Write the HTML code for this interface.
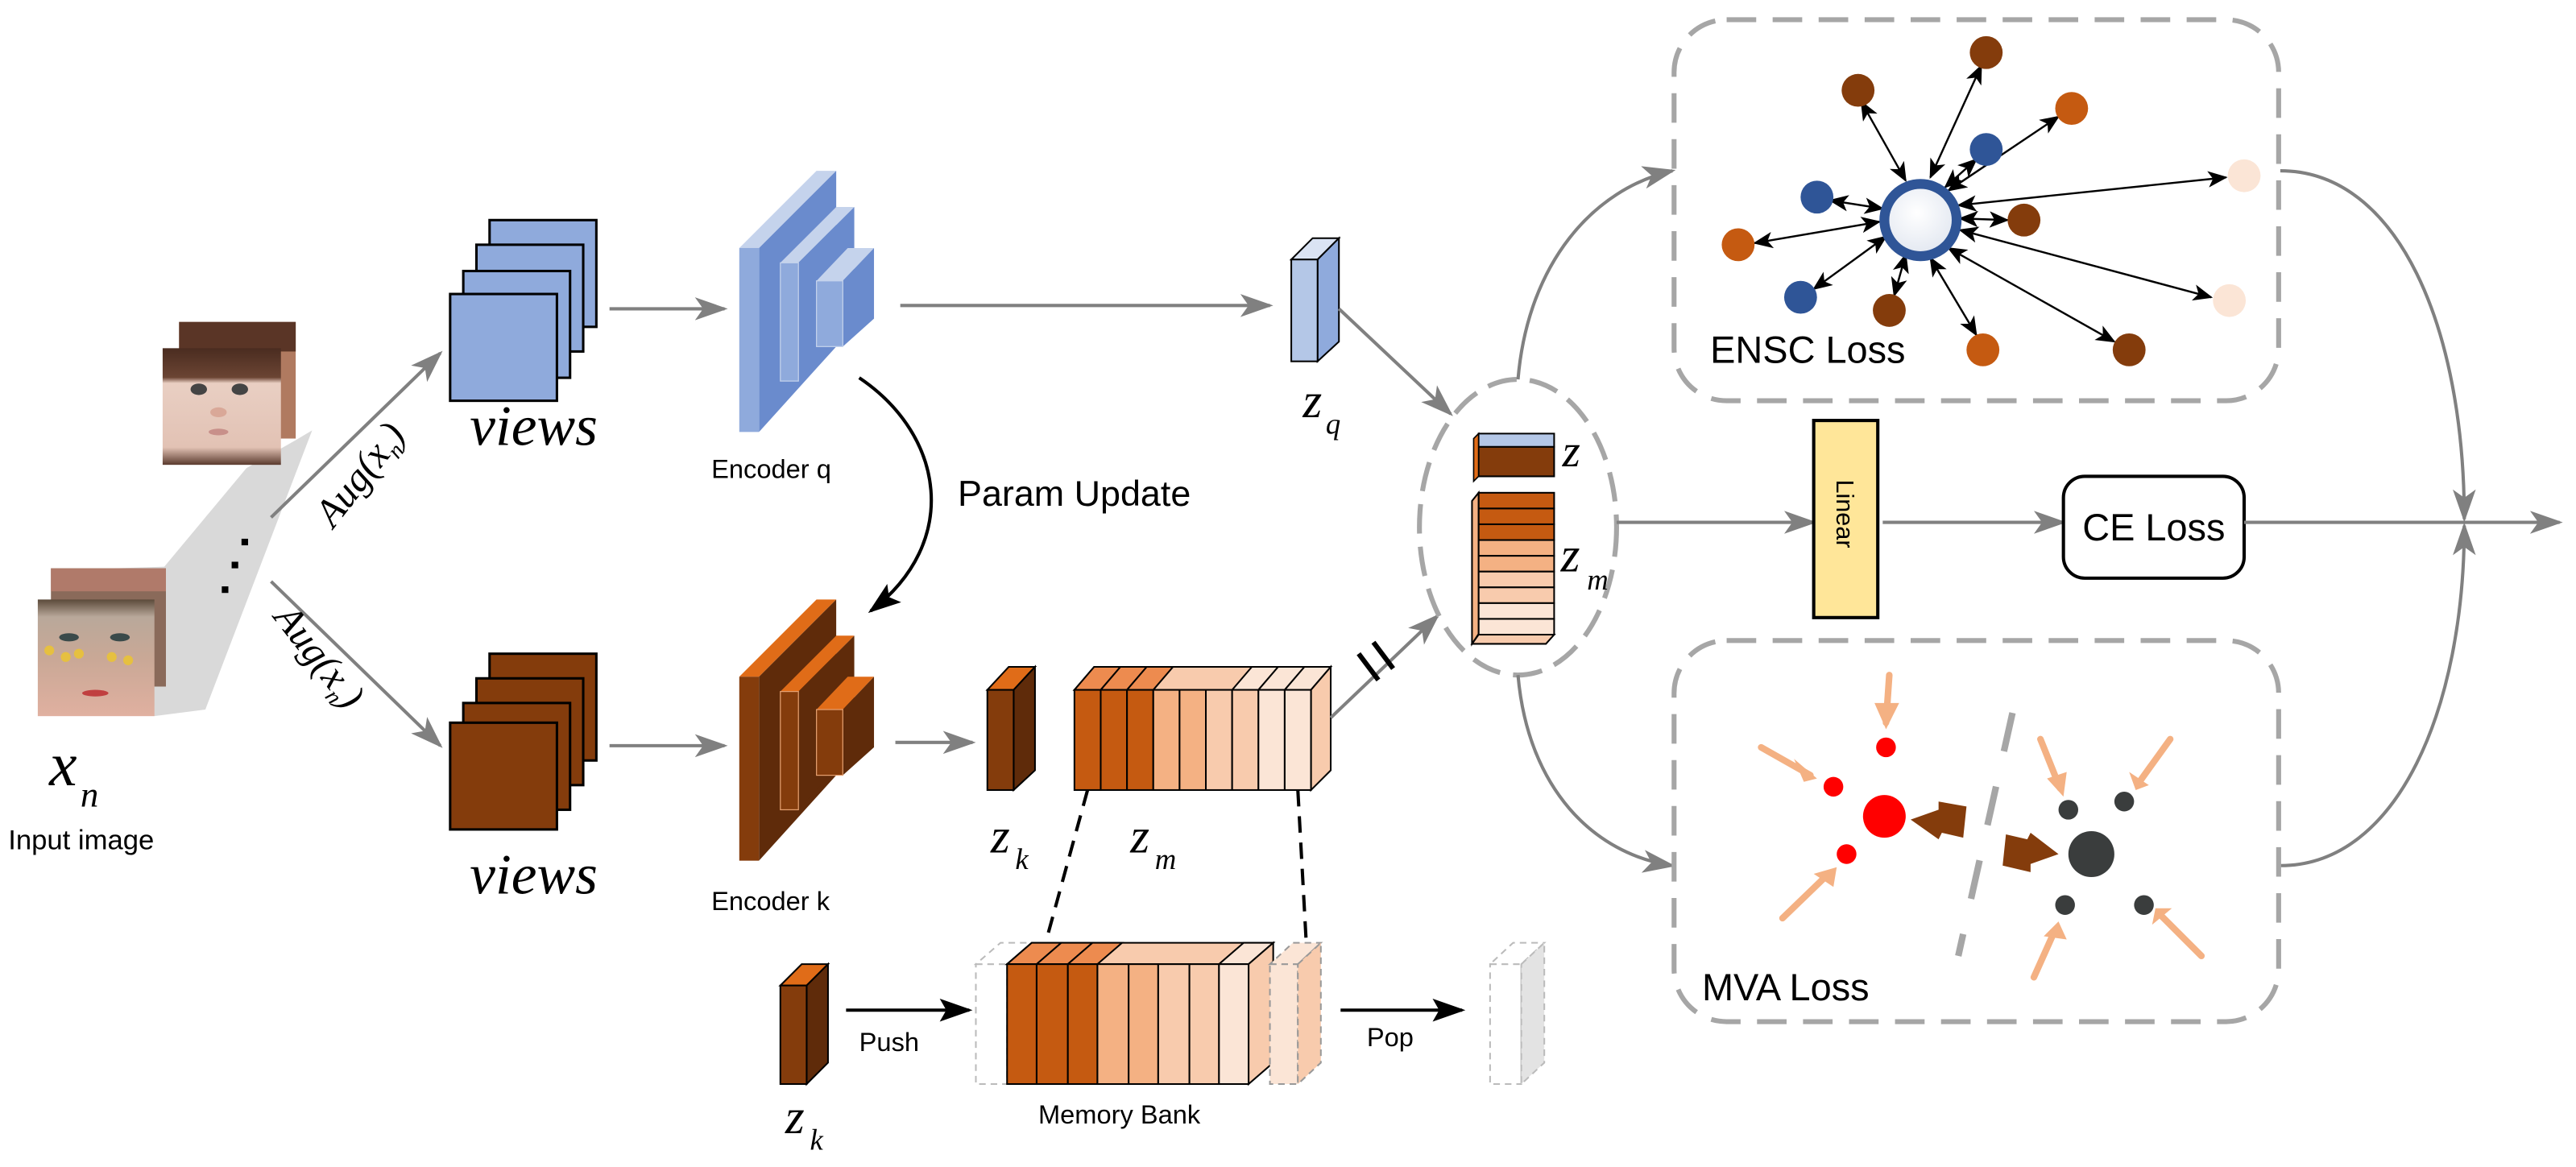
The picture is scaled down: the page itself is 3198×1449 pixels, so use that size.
<!DOCTYPE html>
<html><head><meta charset="utf-8"><style>
html,body{margin:0;padding:0;background:#fff;}
svg{display:block;}
text{font-family:"Liberation Sans",sans-serif;}
.s{font-family:"Liberation Serif",serif;font-style:italic;}
</style></head><body>
<svg width="3198" height="1449" viewBox="0 0 1568 710.5" preserveAspectRatio="none" xmlns="http://www.w3.org/2000/svg">
<defs>
<marker id="ga" markerUnits="userSpaceOnUse" markerWidth="20" markerHeight="14" refX="18" refY="7" orient="auto"><path d="M0,0 L20,7 L0,14 L5,7 z" fill="#808080"/></marker>
<marker id="ba" markerUnits="userSpaceOnUse" markerWidth="20" markerHeight="14" refX="18" refY="7" orient="auto"><path d="M0,0 L20,7 L0,14 L4,7 z" fill="#000"/></marker>
<marker id="sa" markerUnits="userSpaceOnUse" markerWidth="12" markerHeight="10" refX="11" refY="5" orient="auto"><path d="M0,0 L12,5 L0,10 L3,5 z" fill="#000"/></marker>
<marker id="sb" markerUnits="userSpaceOnUse" markerWidth="12" markerHeight="10" refX="1" refY="5" orient="auto"><path d="M12,0 L0,5 L12,10 L9,5 z" fill="#000"/></marker>
<radialGradient id="rg" cx="0.45" cy="0.4" r="0.7"><stop offset="0" stop-color="#fff"/><stop offset="1" stop-color="#dde3ee"/></radialGradient>
<linearGradient id="child" x1="0" y1="0" x2="0" y2="1"><stop offset="0" stop-color="#4a2c20"/><stop offset="0.25" stop-color="#6b4433"/><stop offset="0.3" stop-color="#e9cfc3"/><stop offset="0.85" stop-color="#e2c2b4"/><stop offset="1" stop-color="#5a3a2e"/></linearGradient>
<linearGradient id="woman" x1="0" y1="0" x2="0" y2="1"><stop offset="0" stop-color="#5b4a3a"/><stop offset="0.15" stop-color="#b9a89a"/><stop offset="0.5" stop-color="#c9a896"/><stop offset="1" stop-color="#e0b0a0"/></linearGradient>
</defs>

<polygon points="150,285 180,268 190,262 125,432 94,436 92,432 70,346 100,345" fill="#d9d9d9"/>
<rect x="109" y="196" width="71" height="71" fill="#b07a60"/>
<rect x="109" y="196" width="71" height="18" fill="#5a3526"/>
<rect x="99" y="212" width="72" height="71" fill="url(#child)"/>
<ellipse cx="121" cy="237" rx="5" ry="3.5" fill="#444"/><ellipse cx="146" cy="237" rx="5" ry="3.5" fill="#444"/>
<ellipse cx="133" cy="251" rx="5" ry="3" fill="#d9a898"/><ellipse cx="133" cy="263" rx="6" ry="2" fill="#c8908a"/>
<rect x="147" y="328" width="4" height="4" fill="#000"/><rect x="141" y="342" width="4" height="4" fill="#000"/><rect x="135" y="357" width="4" height="4" fill="#000"/>
<rect x="31" y="346" width="70" height="72" fill="#8a6a5a"/>
<rect x="31" y="346" width="70" height="14" fill="#b07a6a"/>
<rect x="23" y="365" width="71" height="71" fill="url(#woman)"/>
<ellipse cx="42" cy="388" rx="6" ry="2.5" fill="#3a4a4a"/><ellipse cx="73" cy="388" rx="6" ry="2.5" fill="#3a4a4a"/>
<circle cx="30" cy="396" r="3" fill="#e6c040"/><circle cx="40" cy="400" r="3" fill="#e6c040"/><circle cx="48" cy="398" r="3" fill="#e6c040"/><circle cx="68" cy="400" r="3" fill="#e6c040"/><circle cx="78" cy="402" r="3" fill="#e6c040"/>
<ellipse cx="58" cy="422" rx="8" ry="2" fill="#c04040"/>
<text x="30" y="478" class="s" font-size="38">x</text><text x="49" y="491" class="s" font-size="22">n</text>
<text x="5" y="517" font-size="17">Input image</text>

<line x1="165" y1="315" x2="268" y2="215" stroke="#808080" stroke-width="2" marker-end="url(#ga)"/>
<line x1="165" y1="354" x2="268" y2="454" stroke="#808080" stroke-width="2" marker-end="url(#ga)"/>
<text transform="translate(203,322) rotate(-52)" class="s" font-size="24">Aug(x<tspan font-size="14" dy="5">n</tspan><tspan dy="-5">)</tspan></text>
<text transform="translate(166,376) rotate(52)" class="s" font-size="24">Aug(x<tspan font-size="14" dy="5">n</tspan><tspan dy="-5">)</tspan></text>

<g stroke="#000" stroke-width="1.5" fill="#8faadc">
<rect x="298" y="134" width="65" height="65"/><rect x="290" y="149" width="65" height="65"/><rect x="282" y="165" width="65" height="65"/><rect x="274" y="179" width="65" height="65"/>
</g>
<text x="286" y="271" class="s" font-size="35">views</text>
<g stroke="#000" stroke-width="1.5" fill="#843c0c">
<rect x="298" y="398" width="65" height="65"/><rect x="290" y="413" width="65" height="65"/><rect x="282" y="428" width="65" height="65"/><rect x="274" y="440" width="65" height="65"/>
</g>
<text x="286" y="544" class="s" font-size="35">views</text>

<line x1="371" y1="188" x2="441" y2="188" stroke="#808080" stroke-width="2" marker-end="url(#ga)"/>
<line x1="371" y1="454" x2="441" y2="454" stroke="#808080" stroke-width="2" marker-end="url(#ga)"/>

<g>
<polygon points="450,151 462,151 509,104 497,104" fill="#c5d3ec"/>
<polygon points="462,151 509,104 509,211 462,263" fill="#6a8bcd"/>
<rect x="450" y="151" width="12" height="112" fill="#8faadc"/>
<polygon points="475,160 486,160 520,126 509,126" fill="#c5d3ec"/>
<polygon points="486,160 520,126 520,194 486,232" fill="#6a8bcd"/>
<rect x="475" y="160" width="11" height="72" fill="#8faadc" stroke="#c5d3ec" stroke-width="0.6"/>
<polygon points="497,171 513,171 532,151 516,151" fill="#c5d3ec"/>
<polygon points="513,171 532,151 532,194 513,211" fill="#6a8bcd"/>
<rect x="497" y="171" width="16" height="40" fill="#8faadc" stroke="#c5d3ec" stroke-width="0.6"/>
</g>
<text x="433" y="291" font-size="16">Encoder q</text>
<g>
<polygon points="450,412 462,412 509,365 497,365" fill="#e06c18"/>
<polygon points="462,412 509,365 509,472 462,524" fill="#5f2b0a"/>
<rect x="450" y="412" width="12" height="112" fill="#843c0c"/>
<polygon points="475,421 486,421 520,387 509,387" fill="#e06c18"/>
<polygon points="486,421 520,387 520,455 486,493" fill="#5f2b0a"/>
<rect x="475" y="421" width="11" height="72" fill="#843c0c" stroke="#e6a070" stroke-width="0.6"/>
<polygon points="497,432 513,432 532,412 516,412" fill="#e06c18"/>
<polygon points="513,432 532,412 532,455 513,472" fill="#5f2b0a"/>
<rect x="497" y="432" width="16" height="40" fill="#843c0c" stroke="#e6a070" stroke-width="0.6"/>
</g>
<text x="433" y="554" font-size="16">Encoder k</text>

<path d="M523,230 C575,265 585,330 530,372" fill="none" stroke="#000" stroke-width="2" marker-end="url(#ba)"/>
<text x="583" y="308" font-size="22">Param Update</text>

<line x1="548" y1="186" x2="773" y2="186" stroke="#808080" stroke-width="2" marker-end="url(#ga)"/>
<polygon points="786,158 802,158 815,145 799,145" fill="#dae3f3" stroke="#000" stroke-width="1"/>
<polygon points="802,158 815,145 815,208 802,220" fill="#8faadc" stroke="#000" stroke-width="1"/>
<rect x="786" y="158" width="16" height="62" fill="#b4c7e7" stroke="#000" stroke-width="1"/>
<text x="793" y="254" class="s" font-size="30">z</text><text x="807" y="264" class="s" font-size="18">q</text>
<line x1="815" y1="188" x2="883" y2="252" stroke="#808080" stroke-width="2" marker-end="url(#ga)"/>

<line x1="545" y1="452" x2="592" y2="452" stroke="#808080" stroke-width="2" marker-end="url(#ga)"/>
<polygon points="601,420 617,420 630,406 614,406" fill="#e06c18" stroke="#000" stroke-width="1"/>
<polygon points="617,420 630,406 630,469 617,481" fill="#5f2b0a" stroke="#000" stroke-width="1"/>
<rect x="601" y="420" width="16" height="61" fill="#843c0c" stroke="#000" stroke-width="1"/>
<text x="603" y="519" class="s" font-size="30">z</text><text x="618" y="529" class="s" font-size="18">k</text>

<g stroke="#000" stroke-width="1">
<polygon points="654,420 798,420 810,406 666,406" fill="#f8cbad"/>
<polygon points="654,420 670,420 682,406 666,406" fill="#ed8b4f"/>
<polygon points="670,420 686,420 698,406 682,406" fill="#ed8b4f"/>
<polygon points="686,420 702,420 714,406 698,406" fill="#ed8b4f"/>
<polygon points="750,420 766,420 778,406 762,406" fill="#fbe5d6"/>
<polygon points="766,420 782,420 794,406 778,406" fill="#fbe5d6"/>
<polygon points="782,420 798,420 810,406 794,406" fill="#fbe5d6"/>
<polygon points="798,420 810,406 810,469 798,481" fill="#f8cbad"/>
<rect x="654" y="420" width="16" height="61" fill="#c55a11"/>
<rect x="670" y="420" width="16" height="61" fill="#c55a11"/>
<rect x="686" y="420" width="16" height="61" fill="#c55a11"/>
<rect x="702" y="420" width="16" height="61" fill="#f4b183"/>
<rect x="718" y="420" width="16" height="61" fill="#f4b183"/>
<rect x="734" y="420" width="16" height="61" fill="#f8cbad"/>
<rect x="750" y="420" width="16" height="61" fill="#f8cbad"/>
<rect x="766" y="420" width="16" height="61" fill="#fbe5d6"/>
<rect x="782" y="420" width="16" height="61" fill="#fbe5d6"/>
</g>
<text x="688" y="519" class="s" font-size="30">z</text><text x="703" y="529" class="s" font-size="18">m</text>
<line x1="662" y1="481" x2="637" y2="572" stroke="#000" stroke-width="2" stroke-dasharray="10,6"/>
<line x1="790" y1="481" x2="795" y2="572" stroke="#000" stroke-width="2" stroke-dasharray="10,6"/>

<line x1="810" y1="437" x2="875" y2="375" stroke="#808080" stroke-width="2" marker-end="url(#ga)"/>
<line x1="827" y1="398" x2="839" y2="414" stroke="#000" stroke-width="3"/>
<line x1="836" y1="391" x2="848" y2="407" stroke="#000" stroke-width="3"/>

<rect x="594" y="587" width="19" height="73" fill="#fff" stroke="#bbb" stroke-width="1" stroke-dasharray="4,3"/>
<polygon points="594,587 613,587 628,574 609,574" fill="#fff" stroke="#bbb" stroke-width="1" stroke-dasharray="4,3"/>
<g stroke="#000" stroke-width="1">
<polygon points="613,587 760,587 775,574 628,574" fill="#f8cbad"/>
<polygon points="613,587 631,587 646,574 628,574" fill="#ed8b4f"/>
<polygon points="631,587 650,587 665,574 646,574" fill="#ed8b4f"/>
<polygon points="650,587 668,587 683,574 665,574" fill="#ed8b4f"/>
<polygon points="742,587 760,587 775,574 757,574" fill="#fbe5d6"/>
<polygon points="760,587 775,574 775,647 760,660" fill="#f8cbad"/>
<rect x="613" y="587" width="18" height="73" fill="#c55a11"/>
<rect x="631" y="587" width="19" height="73" fill="#c55a11"/>
<rect x="650" y="587" width="18" height="73" fill="#c55a11"/>
<rect x="668" y="587" width="19" height="73" fill="#f4b183"/>
<rect x="687" y="587" width="18" height="73" fill="#f4b183"/>
<rect x="705" y="587" width="19" height="73" fill="#f8cbad"/>
<rect x="724" y="587" width="18" height="73" fill="#f8cbad"/>
<rect x="742" y="587" width="18" height="73" fill="#fbe5d6"/>
</g>
<g stroke="#999" stroke-width="1" stroke-dasharray="4,3">
<rect x="773" y="587" width="17" height="73" fill="#fbe5d6"/>
<polygon points="773,587 790,587 804,574 787,574" fill="#fbe5d6"/>
<polygon points="790,587 804,574 804,647 790,660" fill="#f8cbad"/>
</g>
<g stroke="#bbb" stroke-width="1" stroke-dasharray="4,3">
<rect x="907" y="587" width="19" height="73" fill="#fff"/>
<polygon points="907,587 926,587 940,574 921,574" fill="#fff"/>
<polygon points="926,587 940,574 940,647 926,660" fill="#e3e3e3"/>
</g>
<text x="632" y="684" font-size="16">Memory Bank</text>
<line x1="515" y1="615" x2="590" y2="615" stroke="#000" stroke-width="2" marker-end="url(#ba)"/>
<text x="523" y="640" font-size="16">Push</text>
<line x1="816" y1="615" x2="890" y2="615" stroke="#000" stroke-width="2" marker-end="url(#ba)"/>
<text x="832" y="637" font-size="16">Pop</text>
<polygon points="475,600 491,600 504,587 488,587" fill="#e06c18" stroke="#000" stroke-width="1"/>
<polygon points="491,600 504,587 504,647 491,660" fill="#5f2b0a" stroke="#000" stroke-width="1"/>
<rect x="475" y="600" width="16" height="60" fill="#843c0c" stroke="#000" stroke-width="1"/>
<text x="478" y="690" class="s" font-size="30">z</text><text x="493" y="700" class="s" font-size="18">k</text>

<ellipse cx="924" cy="321" rx="60" ry="90" fill="none" stroke="#a6a6a6" stroke-width="3" stroke-dasharray="18,8"/>
<polygon points="900,272 946,272 946,290 900,290" fill="#843c0c" stroke="#000" stroke-width="1"/>
<polygon points="900,264 946,264 946,272 900,272" fill="#b4c7e7" stroke="#000" stroke-width="1"/>
<polygon points="897,267 900,264 900,290 897,293" fill="#e06c18" stroke="#000" stroke-width="0.8"/>
<text x="951" y="284" class="s" font-size="28">z</text>
<g stroke="#000" stroke-width="1">
<rect x="900" y="300" width="46" height="9.6" fill="#c55a11"/>
<rect x="900" y="309.6" width="46" height="9.6" fill="#c55a11"/>
<rect x="900" y="319.2" width="46" height="9.6" fill="#c55a11"/>
<rect x="900" y="328.8" width="46" height="9.6" fill="#f4b183"/>
<rect x="900" y="338.4" width="46" height="9.6" fill="#f4b183"/>
<rect x="900" y="348" width="46" height="9.6" fill="#f8cbad"/>
<rect x="900" y="357.6" width="46" height="9.6" fill="#f8cbad"/>
<rect x="900" y="367.2" width="46" height="9.6" fill="#fbe5d6"/>
<rect x="900" y="376.8" width="46" height="9.6" fill="#fbe5d6"/>
<polygon points="900,386.4 946,386.4 941,392 896,392" fill="#f8cbad"/>
<polygon points="896,305 900,300 900,386 896,392" fill="#f4b183"/>
</g>
<text x="950" y="348" class="s" font-size="30">z</text><text x="966" y="359" class="s" font-size="18">m</text>

<path d="M924,231 C930,160 970,115 1018,104" fill="none" stroke="#808080" stroke-width="2" marker-end="url(#ga)"/>
<path d="M924,411 C930,480 970,520 1018,527" fill="none" stroke="#808080" stroke-width="2" marker-end="url(#ga)"/>
<line x1="984" y1="318" x2="1104" y2="318" stroke="#808080" stroke-width="2" marker-end="url(#ga)"/>
<rect x="1104" y="256" width="39" height="120" fill="#ffe699" stroke="#000" stroke-width="2"/>
<text transform="translate(1118,292) rotate(90)" font-size="15">Linear</text>
<line x1="1146" y1="318" x2="1256" y2="318" stroke="#808080" stroke-width="2" marker-end="url(#ga)"/>
<rect x="1256" y="290" width="110" height="62" rx="13" fill="#fff" stroke="#000" stroke-width="2"/>
<text x="1311" y="329" font-size="23" text-anchor="middle">CE Loss</text>
<line x1="1366" y1="318" x2="1558" y2="318" stroke="#808080" stroke-width="2" marker-end="url(#ga)"/>
<path d="M1388,104 C1460,104 1500,200 1500,316" fill="none" stroke="#808080" stroke-width="2" marker-end="url(#ga)"/>
<path d="M1388,527 C1460,527 1500,430 1500,320" fill="none" stroke="#808080" stroke-width="2" marker-end="url(#ga)"/>

<rect x="1019" y="12" width="368" height="232" rx="32" fill="none" stroke="#a6a6a6" stroke-width="3" stroke-dasharray="18,10"/>
<g stroke="#000" stroke-width="1.2" marker-start="url(#sb)" marker-end="url(#sa)">
<line x1="1160" y1="110" x2="1133" y2="62"/>
<line x1="1175" y1="108" x2="1206" y2="40"/>
<line x1="1186" y1="116" x2="1253" y2="71"/>
<line x1="1184" y1="114" x2="1203" y2="97"/>
<line x1="1146" y1="127" x2="1114" y2="122"/>
<line x1="1144" y1="135" x2="1068" y2="148"/>
<line x1="1148" y1="144" x2="1104" y2="176"/>
<line x1="1160" y1="155" x2="1153" y2="180"/>
<line x1="1175" y1="157" x2="1203" y2="204"/>
<line x1="1186" y1="151" x2="1287" y2="208"/>
<line x1="1192" y1="125" x2="1355" y2="108"/>
<line x1="1193" y1="140" x2="1346" y2="181"/>
<line x1="1193" y1="133" x2="1222" y2="134"/>
</g>
<circle cx="1169" cy="134" r="22" fill="url(#rg)" stroke="#2f5597" stroke-width="6"/>
<g>
<circle cx="1131" cy="55" r="10" fill="#843c0c"/>
<circle cx="1209" cy="32" r="10" fill="#843c0c"/>
<circle cx="1261" cy="66" r="10" fill="#c55a11"/>
<circle cx="1209" cy="91" r="10" fill="#2f5597"/>
<circle cx="1106" cy="120" r="10" fill="#2f5597"/>
<circle cx="1058" cy="149" r="10" fill="#c55a11"/>
<circle cx="1096" cy="181" r="10" fill="#2f5597"/>
<circle cx="1150" cy="189" r="10" fill="#843c0c"/>
<circle cx="1207" cy="213" r="10" fill="#c55a11"/>
<circle cx="1296" cy="213" r="10" fill="#843c0c"/>
<circle cx="1366" cy="107" r="10" fill="#fbe5d6"/>
<circle cx="1357" cy="183" r="10" fill="#fbe5d6"/>
<circle cx="1232" cy="134" r="10" fill="#843c0c"/>
</g>
<text x="1041" y="221" font-size="23">ENSC Loss</text>

<rect x="1019" y="390" width="368" height="232" rx="32" fill="none" stroke="#a6a6a6" stroke-width="3" stroke-dasharray="18,10"/>
<g fill="#f4b183" stroke="#f4b183" stroke-width="4" stroke-linecap="round">
<line x1="1150" y1="411" x2="1148" y2="440"/><polygon points="1141,428 1156,428 1148,444" stroke="none"/>
<line x1="1072" y1="455" x2="1102" y2="472"/><polygon points="1092,462 1098,476 1106,474" stroke="none"/>
<line x1="1085" y1="559" x2="1113" y2="532"/><polygon points="1104,532 1116,540 1118,528" stroke="none"/>
<line x1="1242" y1="450" x2="1254" y2="480"/><polygon points="1246,474 1258,470 1256,485" stroke="none"/>
<line x1="1321" y1="450" x2="1303" y2="475"/><polygon points="1296,470 1308,478 1300,481" stroke="none"/>
<line x1="1340" y1="582" x2="1316" y2="558"/><polygon points="1310,563 1322,553 1312,553" stroke="none"/>
<line x1="1238" y1="595" x2="1251" y2="566"/><polygon points="1244,570 1258,572 1253,561" stroke="none"/>
</g>
<g fill="#843c0c">
<polygon points="1163,499 1180,493 1180,488 1197,491 1195,510 1182,507 1180,511"/>
<polygon points="1253,520 1236,526 1236,531 1219,527 1221,508 1234,511 1236,507"/>
</g>
<line x1="1225" y1="434" x2="1192" y2="582" stroke="#a6a6a6" stroke-width="4" stroke-dasharray="24,22"/>
<circle cx="1147" cy="497" r="13" fill="#ff0000"/>
<circle cx="1148" cy="455" r="6" fill="#ff0000"/>
<circle cx="1116" cy="479" r="6" fill="#ff0000"/>
<circle cx="1124" cy="520" r="6" fill="#ff0000"/>
<circle cx="1273" cy="520" r="14" fill="#3a3d3d"/>
<circle cx="1259" cy="493" r="6" fill="#3a3d3d"/>
<circle cx="1293" cy="488" r="6" fill="#3a3d3d"/>
<circle cx="1257" cy="551" r="6" fill="#3a3d3d"/>
<circle cx="1305" cy="551" r="6" fill="#3a3d3d"/>
<text x="1036" y="609" font-size="23">MVA Loss</text>
</svg>
</body></html>
